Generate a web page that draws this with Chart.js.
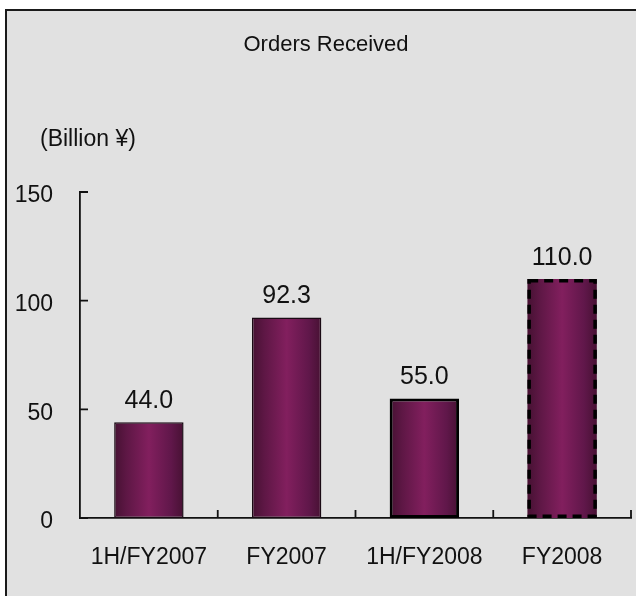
<!DOCTYPE html>
<html><head><meta charset="utf-8">
<script src="https://cdn.jsdelivr.net/npm/chart.js@4.4.1/dist/chart.umd.min.js"></script>
<style>
html,body{margin:0;padding:0;background:#fff;width:636px;height:596px;overflow:hidden}
#frame{position:absolute;left:5px;top:9px;width:700px;height:700px;background:#e1e1e1;border-left:2px solid #1a1a1a;border-top:2px solid #1a1a1a}
canvas{position:absolute;left:0;top:0}
</style></head><body>
<div id="frame"></div>
<canvas id="c" width="636" height="596"></canvas>
<script>
const categories = ['1H/FY2007', 'FY2007', '1H/FY2008', 'FY2008'];
const orders = [44.0, 92.3, 55.0, 110.0];
const yTicks = [0, 50, 100, 150];
const chartTitle = 'Orders Received';
const unitLabel = '(Billion ¥)';

const FONT = "'Liberation Sans', Arial, sans-serif";
const INK = '#111';

const decor = {
  id: 'decor',
  beforeDatasetsDraw(chart) {
    const ctx = chart.ctx;
    const meta = chart.getDatasetMeta(0);
    meta.data.forEach(el => {
      const p = el.getProps(['x', 'width'], true);
      const g = ctx.createLinearGradient(p.x - p.width / 2, 0, p.x + p.width / 2, 0);
      g.addColorStop(0, '#461132');
      g.addColorStop(0.18, '#5e1745');
      g.addColorStop(0.5, '#821f5e');
      g.addColorStop(0.82, '#60174a');
      g.addColorStop(1, '#471133');
      el.options.backgroundColor = g;
    });
  },
  afterDatasetsDraw(chart) {
    const ctx = chart.ctx;
    const meta = chart.getDatasetMeta(0);
    const el = meta.data[3];
    const p = el.getProps(['x', 'y', 'base', 'width'], true);
    const lw = 3.5;
    ctx.save();
    ctx.strokeStyle = '#000';
    ctx.lineWidth = lw;
    ctx.setLineDash([9, 6]);
    ctx.strokeRect(p.x - p.width / 2 + lw / 2, p.y + lw / 2, p.width - lw, p.base - p.y - lw);
    ctx.restore();
    ctx.save();
    ctx.fillStyle = INK;
    ctx.font = '25px ' + FONT;
    ctx.textAlign = 'center';
    ctx.textBaseline = 'alphabetic';
    meta.data.forEach((b, i) => {
      const q = b.getProps(['x', 'y'], true);
      ctx.fillText(orders[i].toFixed(1), q.x, q.y - 14);
    });
    ctx.restore();
  },
  afterDraw(chart) {
    const ctx = chart.ctx;
    const ca = chart.chartArea;
    const ys = chart.scales.y, xs = chart.scales.x;
    ctx.save();
    ctx.strokeStyle = INK;
    ctx.lineWidth = 1.8;
    ctx.beginPath();
    ys.ticks.forEach(t => {
      const y = ys.getPixelForValue(t.value);
      ctx.moveTo(ca.left, y); ctx.lineTo(ca.left + 8, y);
    });
    const half = (xs.getPixelForValue(1) - xs.getPixelForValue(0)) / 2;
    categories.forEach((c, i) => {
      const x = xs.getPixelForValue(i) + half;
      ctx.moveTo(x, ca.bottom); ctx.lineTo(x, ca.bottom - 8);
    });
    ctx.stroke();
    ctx.fillStyle = INK;
    ctx.textBaseline = 'middle';
    ctx.textAlign = 'center';
    ctx.font = '22px ' + FONT;
    ctx.fillText(chartTitle, 326, 45);
    ctx.textAlign = 'left';
    ctx.font = '23px ' + FONT;
    ctx.fillText(unitLabel, 40, 140);
    ctx.restore();
  }
};

new Chart(document.getElementById('c'), {
  type: 'bar',
  data: {
    labels: categories,
    datasets: [{
      data: orders,
      backgroundColor: () => '#7a1d58',
      borderColor: ['#1a0a14', '#1a0a14', '#000', '#000'],
      borderWidth: [1.5, 1.5, 3, 0],
      borderSkipped: false,
      barPercentage: 0.63,
      categoryPercentage: 0.8
    }]
  },
  options: {
    responsive: false,
    animation: false,
    devicePixelRatio: 1,
    layout: { padding: { left: 0, right: 5, top: 192, bottom: 0 } },
    plugins: { legend: { display: false }, title: { display: false }, tooltip: { enabled: false } },
    scales: {
      x: {
        grid: { display: false, drawTicks: false },
        border: { display: true, color: INK, width: 1.8 },
        ticks: { color: INK, font: { family: FONT, size: 23 }, padding: 26, maxRotation: 0, autoSkip: false },
        afterFit(s) { s.height = 78; }
      },
      y: {
        min: 0, max: 150,
        grid: { display: false, drawTicks: false },
        border: { display: true, color: INK, width: 1.8 },
        afterBuildTicks(s) { s.ticks = yTicks.map(v => ({ value: v })); },
        ticks: { color: INK, font: { family: FONT, size: 23 }, padding: 27, labelOffset: 4 },
        afterFit(s) { s.width = 80; }
      }
    }
  },
  plugins: [decor]
});
</script>
</body></html>
